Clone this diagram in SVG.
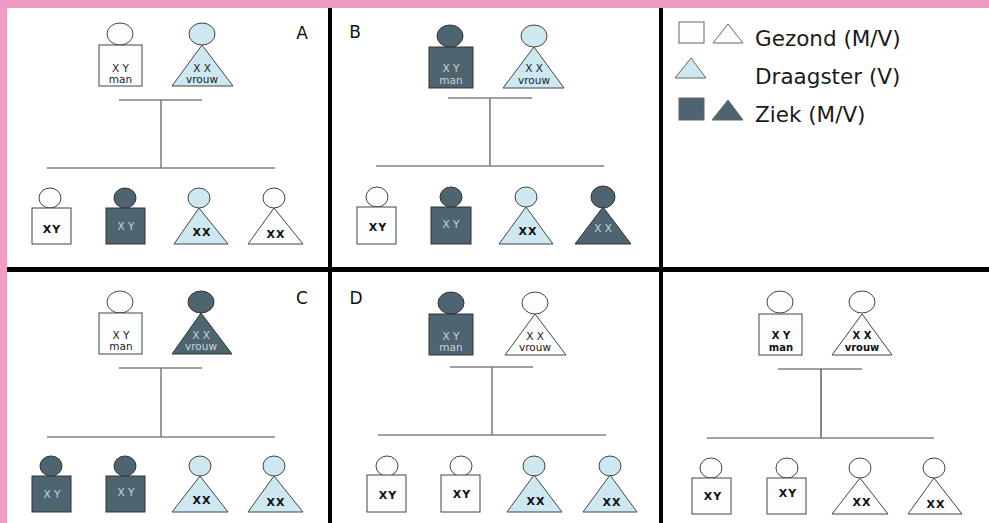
<svg xmlns="http://www.w3.org/2000/svg" width="989" height="523" viewBox="0 0 989 523">
<style>
.w{fill:#fcfdfe;stroke:#444;stroke-width:1}
.lb{fill:#cde8f1;stroke:#444;stroke-width:1}
.dk{fill:#4e6571;stroke:#333;stroke-width:1}
.t{font-family:"DejaVu Sans",Verdana,sans-serif;font-size:10.5px;text-anchor:middle;fill:#222}
.tl{font-family:"DejaVu Sans",Verdana,sans-serif;font-size:10.5px;text-anchor:middle;fill:#c9d3d8}
.tb{font-family:"DejaVu Sans",Verdana,sans-serif;font-size:11px;font-weight:bold;text-anchor:middle;fill:#111;letter-spacing:1px}
.tp{font-family:"DejaVu Sans",Verdana,sans-serif;font-size:10px;font-weight:bold;text-anchor:middle;fill:#111}
.lab{font-family:"DejaVu Sans",Verdana,sans-serif;font-size:17px;text-anchor:middle;fill:#111}
.leg{font-family:"DejaVu Sans",Verdana,sans-serif;font-size:21.5px;fill:#1a1a1a}
.ln{stroke:#808080;stroke-width:1.6;fill:none}
</style>
<rect x="0" y="0" width="989" height="523" fill="#ffffff"/>
<rect x="0" y="0" width="989" height="8" fill="#ef9cc4"/>
<rect x="0" y="0" width="7" height="523" fill="#ef9cc4"/>
<g id="frame" fill="#000">
<rect x="7" y="267" width="982" height="5"/>
<rect x="328" y="8" width="4" height="515"/>
<rect x="659" y="8" width="4" height="515"/>
</g>
<g id="connectors">
<line class="ln" x1="119" y1="100" x2="202" y2="100"/>
<line class="ln" x1="161" y1="100" x2="161" y2="168"/>
<line class="ln" x1="47" y1="168" x2="275" y2="168"/>
<line class="ln" x1="448" y1="98" x2="532" y2="98"/>
<line class="ln" x1="490" y1="98" x2="490" y2="166"/>
<line class="ln" x1="376" y1="166" x2="604" y2="166"/>
<line class="ln" x1="119" y1="368" x2="202" y2="368"/>
<line class="ln" x1="161" y1="368" x2="161" y2="437"/>
<line class="ln" x1="47" y1="437" x2="275" y2="437"/>
<line class="ln" x1="450" y1="367" x2="533" y2="367"/>
<line class="ln" x1="492" y1="367" x2="492" y2="435"/>
<line class="ln" x1="378" y1="435" x2="606" y2="435"/>
<line class="ln" x1="778" y1="369" x2="862" y2="369"/>
<line x1="821" y1="369" x2="821" y2="438" stroke="#111" stroke-width="1"/>
<line class="ln" x1="707" y1="438" x2="934" y2="438"/>
</g>
<!-- Panel A -->
<text class="lab" x="302" y="39">A</text>
<g id="A-father"><ellipse class="w" cx="120" cy="34" rx="13" ry="11"/><rect class="w" x="99" y="45" width="43" height="41"/><text class="t" x="120.5" y="72">X Y</text><text class="t" x="120.5" y="83">man</text></g>
<g id="A-mother"><ellipse class="lb" cx="202" cy="34" rx="13" ry="11"/><polygon class="lb" points="202,45 172,86 233,86"/><text class="t" x="202" y="72">X X</text><text class="t" x="202" y="83">vrouw</text></g>
<g id="A-c1"><ellipse class="w" cx="50" cy="198" rx="11" ry="10"/><rect class="w" x="32" y="208" width="39" height="36"/><text class="tb" x="52" y="233">XY</text></g>
<g id="A-c2"><ellipse class="dk" cx="125" cy="198" rx="11" ry="10"/><rect class="dk" x="106" y="208" width="39" height="36"/><text class="tl" x="126" y="230">X Y</text></g>
<g id="A-c3"><ellipse class="lb" cx="199" cy="198" rx="11" ry="10"/><polygon class="lb" points="199,208 174,244 228,244"/><text class="tb" x="202" y="236">XX</text></g>
<g id="A-c4"><ellipse class="w" cx="274" cy="198" rx="11" ry="10"/><polygon class="w" points="274,208 248,244 303,244"/><text class="tb" x="276" y="238">XX</text></g>
<!-- Panel B -->
<text class="lab" x="355" y="38">B</text>
<g id="B-father"><ellipse class="dk" cx="450" cy="36" rx="13" ry="11"/><rect class="dk" x="429" y="47" width="44" height="41"/><text class="tl" x="451" y="72">X Y</text><text class="tl" x="451" y="84">man</text></g>
<g id="B-mother"><ellipse class="lb" cx="534" cy="36" rx="13" ry="11"/><polygon class="lb" points="534,47 503,88 564,88"/><text class="t" x="534" y="72">X X</text><text class="t" x="534" y="84">vrouw</text></g>
<g id="B-c1"><ellipse class="w" cx="377" cy="197" rx="11" ry="10"/><rect class="w" x="357" y="207" width="39" height="37"/><text class="tb" x="378" y="231">XY</text></g>
<g id="B-c2"><ellipse class="dk" cx="451" cy="197" rx="11" ry="10"/><rect class="dk" x="431" y="207" width="40" height="37"/><text class="tl" x="451" y="228">X Y</text></g>
<g id="B-c3"><ellipse class="lb" cx="526" cy="197" rx="11" ry="10"/><polygon class="lb" points="526,207 499,244 553,244"/><text class="tb" x="528" y="235">XX</text></g>
<g id="B-c4"><ellipse class="dk" cx="603" cy="197" rx="12" ry="11"/><polygon class="dk" points="603,207 575,244 631,244"/><text class="tl" x="603" y="232">X X</text></g>
<!-- Legend -->
<g id="legend">
<rect class="w" x="679" y="22" width="25" height="21" style="stroke:#666"/>
<polygon class="w" points="728,24 713,43 743,43" style="stroke:#666"/>
<text class="leg" x="755" y="46">Gezond (M/V)</text>
<polygon class="lb" points="691,58 675,78 706,78" style="stroke:#666"/>
<text class="leg" x="755" y="84">Draagster (V)</text>
<rect class="dk" x="679" y="98" width="25" height="22" style="stroke:#666"/>
<polygon class="dk" points="728,100 712,120 743,120" style="stroke:#666"/>
<text class="leg" x="755" y="122">Ziek (M/V)</text>
</g>
<!-- Panel C -->
<text class="lab" x="302" y="304">C</text>
<g id="C-father"><ellipse class="w" cx="120" cy="302" rx="13" ry="11"/><rect class="w" x="99" y="313" width="43" height="41"/><text class="t" x="121" y="339">X Y</text><text class="t" x="121" y="350">man</text></g>
<g id="C-mother"><ellipse class="dk" cx="201" cy="302" rx="13" ry="11"/><polygon class="dk" points="201,313 172,354 232,354"/><text class="tl" x="201" y="339">X X</text><text class="tl" x="201" y="350">vrouw</text></g>
<g id="C-c1"><ellipse class="dk" cx="51" cy="466" rx="11" ry="10"/><rect class="dk" x="32" y="476" width="39" height="36"/><text class="tl" x="52" y="498">X Y</text></g>
<g id="C-c2"><ellipse class="dk" cx="125" cy="466" rx="11" ry="10"/><rect class="dk" x="106" y="476" width="39" height="36"/><text class="tl" x="126" y="496">X Y</text></g>
<g id="C-c3"><ellipse class="lb" cx="200" cy="466" rx="11" ry="10"/><polygon class="lb" points="200,476 172,512 228,512"/><text class="tb" x="202" y="504">XX</text></g>
<g id="C-c4"><ellipse class="lb" cx="274" cy="466" rx="11" ry="10"/><polygon class="lb" points="274,476 248,512 303,512"/><text class="tb" x="276" y="506">XX</text></g>
<!-- Panel D -->
<text class="lab" x="356" y="304">D</text>
<g id="D-father"><ellipse class="dk" cx="451" cy="303" rx="13" ry="11"/><rect class="dk" x="429" y="314" width="44" height="41"/><text class="tl" x="451" y="340">X Y</text><text class="tl" x="451" y="351">man</text></g>
<g id="D-mother"><ellipse class="w" cx="535" cy="303" rx="13" ry="11"/><polygon class="w" points="535,314 505,355 566,355"/><text class="t" x="535" y="340">X X</text><text class="t" x="535" y="351">vrouw</text></g>
<g id="D-c1"><ellipse class="w" cx="387" cy="466" rx="11" ry="10"/><rect class="w" x="367" y="475" width="39" height="37"/><text class="tb" x="388" y="499">XY</text></g>
<g id="D-c2"><ellipse class="w" cx="461" cy="466" rx="11" ry="10"/><rect class="w" x="441" y="475" width="39" height="37"/><text class="tb" x="462" y="498">XY</text></g>
<g id="D-c3"><ellipse class="lb" cx="534" cy="466" rx="11" ry="10"/><polygon class="lb" points="534,475 507,512 562,512"/><text class="tb" x="536" y="505">XX</text></g>
<g id="D-c4"><ellipse class="lb" cx="610" cy="466" rx="11" ry="10"/><polygon class="lb" points="610,475 583,512 637,512"/><text class="tb" x="612" y="506">XX</text></g>
<!-- Panel E -->
<g id="E-father"><ellipse class="w" cx="780" cy="302" rx="13" ry="11"/><rect class="w" x="759" y="314" width="43" height="41"/><text class="tp" x="781" y="339">X Y</text><text class="tp" x="781" y="351">man</text></g>
<g id="E-mother"><ellipse class="w" cx="862" cy="302" rx="13" ry="11"/><polygon class="w" points="862,314 832,355 892,355"/><text class="tp" x="862" y="339">X X</text><text class="tp" x="862" y="351">vrouw</text></g>
<g id="E-c1"><ellipse class="w" cx="711" cy="468" rx="11" ry="10"/><rect class="w" x="692" y="478" width="39" height="36"/><text class="tb" x="713" y="500">XY</text></g>
<g id="E-c2"><ellipse class="w" cx="787" cy="468" rx="11" ry="10"/><rect class="w" x="767" y="478" width="39" height="36"/><text class="tb" x="788" y="497">XY</text></g>
<g id="E-c3"><ellipse class="w" cx="860" cy="468" rx="11" ry="10"/><polygon class="w" points="860,478 832,514 888,514"/><text class="tb" x="862" y="506">XX</text></g>
<g id="E-c4"><ellipse class="w" cx="934" cy="468" rx="11" ry="10"/><polygon class="w" points="934,478 908,514 962,514"/><text class="tb" x="936" y="508">XX</text></g>
</svg>
